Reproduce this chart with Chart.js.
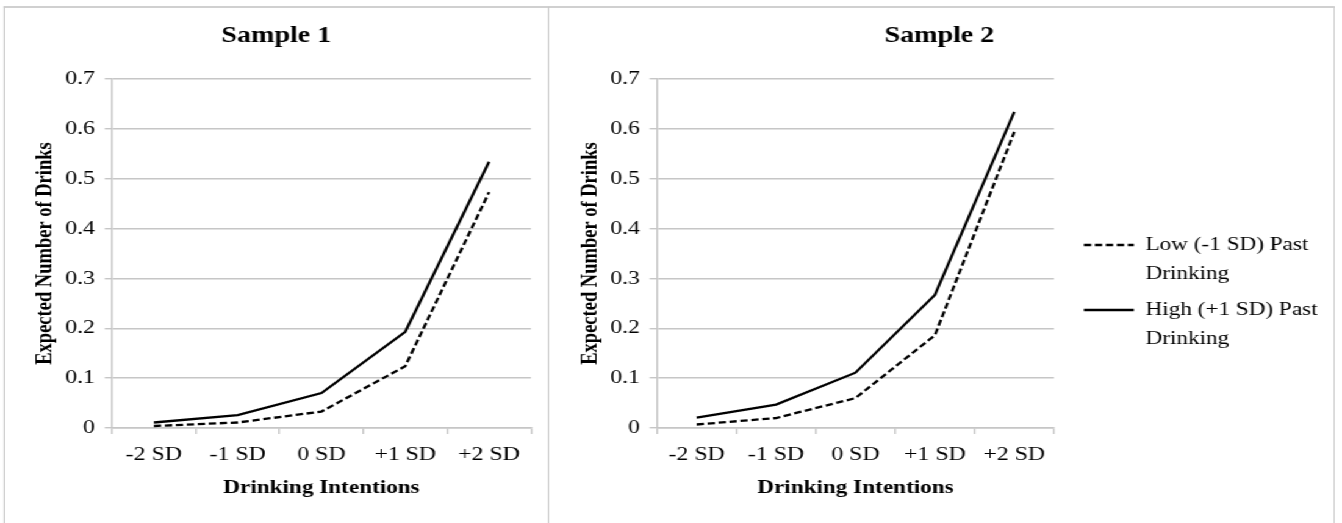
<!DOCTYPE html>
<html><head><meta charset="utf-8">
<script src="https://cdn.jsdelivr.net/npm/chart.js@4.4.1/dist/chart.umd.min.js"></script>
<style>
html,body{margin:0;padding:0;background:#fff;overflow:hidden;width:1342px;height:523px;}
#stage{position:absolute;left:0;top:0;width:1100px;height:523px;transform:scaleX(1.22);transform-origin:0 0;}
.panel{position:absolute;top:6px;height:600px;border-top:2px solid #d0d0d0;box-sizing:border-box;}
canvas{position:absolute;}
</style></head><body>
<div id="stage">
 <div class="panel" style="left:3.3px;width:446.7px;border-left:1.7px solid #c8c8c8;border-right:1.7px solid #c8c8c8"></div>
 <div class="panel" style="left:450px;width:644.3px;border-right:1.7px solid #c8c8c8"></div>
 <canvas id="c1" width="447" height="517" style="left:3px;top:6px"></canvas>
 <canvas id="c2" width="640" height="517" style="left:450px;top:6px"></canvas>
</div>
<script>
// ---- data ----
const categories = ['-2 SD', '-1 SD', '0 SD', '+1 SD', '+2 SD'];
const yTickLabels = ['0', '0.1', '0.2', '0.3', '0.4', '0.5', '0.6', '0.7'];
const seriesNames = [['Low (-1 SD) Past', 'Drinking'], ['High (+1 SD) Past', 'Drinking']];
const sample1Low  = [0.004, 0.011, 0.033, 0.124, 0.473];
const sample1High = [0.011, 0.026, 0.070, 0.193, 0.534];
const sample2Low  = [0.007, 0.020, 0.060, 0.186, 0.594];
const sample2High = [0.021, 0.047, 0.111, 0.267, 0.634];
const panelTitles = ['Sample 1', 'Sample 2'];
const xTitle = 'Drinking Intentions';
const yTitle = 'Expected Number of Drinks';

Chart.defaults.font.family = "'Liberation Serif', 'Times New Roman', serif";
Chart.defaults.color = '#000';

const gridColor = '#c6c6c6';
const gridW = 1.4;

function datasets(low, high) {
  return [
    {label: seriesNames[0], data: low, borderColor: '#000', backgroundColor: '#000',
     borderWidth: 2.3, borderDash: [6, 3], pointRadius: 0, tension: 0, fill: false},
    {label: seriesNames[1], data: high, borderColor: '#000', backgroundColor: '#000',
     borderWidth: 2.3, pointRadius: 0, tension: 0, fill: false}
  ];
}

function legendItems(chart) {
  return chart.data.datasets.map((ds, i) => ({
    text: ds.label, fillStyle: ds.borderColor, strokeStyle: ds.borderColor,
    lineWidth: ds.borderWidth, lineDash: ds.borderDash || [], lineCap: 'butt',
    pointStyle: 'line', datasetIndex: i, hidden: false, fontColor: '#000'
  }));
}

function makeOptions(title, yAxisW, rightW, showLegend) {
  return {
    responsive: false, animation: false, events: [],
    layout: {padding: 0},
    plugins: {
      tooltip: {enabled: false},
      title: {display: true, text: title, color: '#000',
        font: {size: 23, weight: 'bold'}, padding: {top: 16.2, bottom: 29.2}},
      legend: showLegend ? {
        display: true, position: 'right', align: 'center', maxWidth: 320,
        title: {display: true, text: '', font: {size: 10, lineHeight: 1}, padding: {top: 56, bottom: 0}},
        labels: {usePointStyle: true, pointStyle: 'line', pointStyleWidth: 41, padding: 6,
          color: '#000', font: {size: 19, lineHeight: 29.5 / 19}, generateLabels: legendItems}
      } : {display: false}
    },
    scales: {
      x: {
        type: 'category', offset: true,
        grid: {display: true, drawOnChartArea: false, drawTicks: true, tickLength: 6, offset: true,
          color: gridColor, lineWidth: gridW},
        border: {display: true, color: gridColor, width: gridW},
        ticks: {padding: 9.6, font: {size: 19.5}, color: '#000', maxRotation: 0, autoSkip: false},
        title: {display: true, text: xTitle, color: '#000', font: {size: 19, weight: 'bold'},
          padding: {top: 0, bottom: 23.9}},
        afterFit: s => { s.height = 95; }
      },
      y: {
        min: 0, max: 0.7,
        ticks: {stepSize: 0.1, padding: 8, font: {size: 19.5}, color: '#000',
          callback: v => yTickLabels[Math.round(v * 10)]},
        grid: {color: gridColor, lineWidth: gridW, tickLength: 6, drawTicks: true},
        border: {display: true, color: gridColor, width: gridW},
        title: {display: true, text: yTitle, color: '#000', font: {size: 18.5, weight: 'bold'},
          padding: {top: 22.8, bottom: 0}},
        afterFit: s => { s.width = yAxisW; }
      },
      yR: {
        type: 'linear', position: 'right', display: true,
        grid: {display: false}, border: {display: false}, ticks: {display: false},
        afterFit: s => { s.width = rightW; }
      }
    }
  };
}

new Chart(document.getElementById('c1'), {
  type: 'line',
  data: {labels: categories, datasets: datasets(sample1Low, sample1High)},
  options: makeOptions(panelTitles[0], 88.8, 14.8, false)
});

new Chart(document.getElementById('c2'), {
  type: 'line',
  data: {labels: categories, datasets: datasets(sample2Low, sample2High)},
  options: makeOptions(panelTitles[1], 88.5, 18.5, true)
});
</script>
</body></html>
